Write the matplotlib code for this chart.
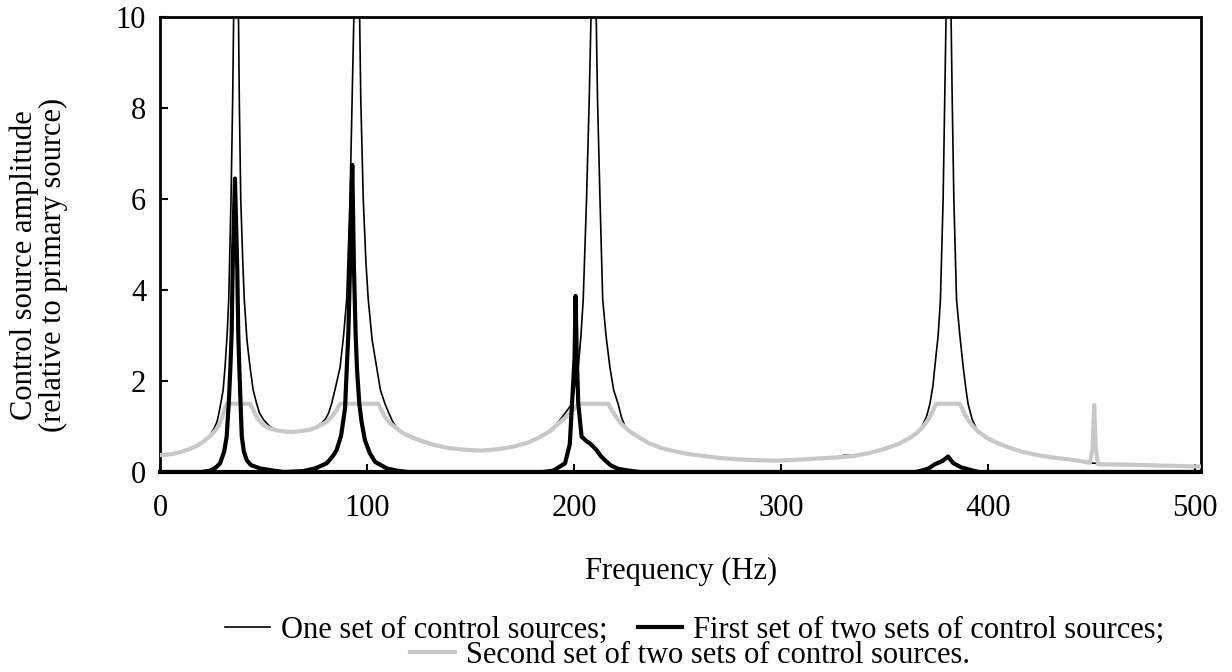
import matplotlib
matplotlib.use("Agg")
import matplotlib.pyplot as plt

plt.rcParams['font.family'] = ['Liberation Serif', 'DejaVu Serif']
plt.rcParams['font.size'] = 22

# one set of control sources (thin black)
one_f = [0, 5, 10, 14, 18, 21, 24, 26, 27.5, 28.5, 29.3, 30.5, 31.4, 32.4, 33.2, 34.3, 35.1,
         35.7, 36.7, 37.8, 38.3, 39.0, 40.0, 40.7, 42.0, 43.5, 45.0, 46.7, 48, 50, 53, 56,
         60, 64, 68, 72, 75, 78, 80, 81.5, 82.9, 85.0, 87, 88.7, 90.2, 91.8, 92.8, 93.9,
         95.1, 96.3, 97, 98.2, 99.5, 100.6, 102.5, 104.7, 106.5, 108.7, 110.5, 112.5, 114.3,
         118, 122, 126, 132, 139, 147, 155, 163, 171, 178, 184, 188, 192, 195, 197.5, 198.9,
         200.5, 202.1, 203.4, 204.5, 206.1, 207.4, 208.5, 209.6, 210.6, 211.4, 212.6, 213.9,
         215.5, 217.4, 219.2, 221.4, 223, 225, 226.2, 230, 236, 242, 249, 256, 263, 270,
         279, 288, 298, 308, 319, 327, 331, 335, 343, 351, 357, 362, 365.5, 368, 370.4,
         372, 373.5, 374.4, 376, 377.1, 378.4, 379.2, 380, 381, 382.1, 382.8, 383.6, 384.9,
         386.5, 388.1, 389.5, 390.5, 392.5, 394.5, 397, 400, 404, 410, 416, 423, 431, 439,
         445, 449, 460, 475, 490, 503]
one_amp = [0.37, 0.39, 0.44, 0.5, 0.58, 0.68, 0.8, 0.95, 1.1, 1.3, 1.5, 1.8, 2.3, 3.0, 3.8,
           6.0, 8.2, 10.5, 25, 10.5, 8.2, 6.0, 4.6, 3.8, 2.9, 2.3, 1.8, 1.5, 1.3, 1.15,
           1.0, 0.93, 0.89, 0.88, 0.89, 0.93, 0.98, 1.07, 1.17, 1.3, 1.5, 1.9, 2.3, 3.0,
           3.8, 6.0, 8.2, 10.5, 25, 10.5, 8.2, 6.0, 4.6, 3.8, 2.9, 2.3, 1.8, 1.5, 1.3, 1.1,
           0.98, 0.84, 0.74, 0.67, 0.59, 0.53, 0.49, 0.47, 0.5, 0.56, 0.65, 0.78, 0.9,
           1.07, 1.25, 1.4, 1.5, 1.9, 2.3, 3.0, 3.8, 6.0, 8.2, 10.5, 25, 10.5, 8.2, 6.0,
           3.8, 3.0, 2.3, 1.8, 1.49, 1.2, 0.97, 0.92, 0.8, 0.64, 0.53, 0.45, 0.39, 0.35,
           0.31, 0.28, 0.26, 0.25, 0.27, 0.30, 0.33, 0.37, 0.36, 0.43, 0.52, 0.62, 0.74,
           0.85, 0.98, 1.22, 1.49, 1.9, 2.31, 3.0, 3.78, 5.98, 8.18, 10.5, 25, 10.5, 8.18,
           5.98, 3.78, 3.0, 2.31, 1.8, 1.49, 1.15, 0.95, 0.82, 0.72, 0.63, 0.53, 0.45,
           0.38, 0.32, 0.28, 0.23, 0.2, 0.17, 0.16, 0.14, 0.12]

# first set of two sets (thick black)
first_f = [0, 20, 24.2, 27, 29, 31, 32.2, 33.2, 34.0, 34.6, 35.1, 36.2, 37.3, 37.8, 38.3,
           39.0, 39.5, 40.5, 41.9, 44, 48.3, 54.8, 60, 69.2, 75, 80.5, 83.5, 85.3, 87.5,
           89.4, 90.2, 91.0, 91.8, 92.9, 93.7, 94.5, 95.2, 96.3, 97.4, 99, 101.4, 104,
           109.5, 114.3, 120, 185, 190, 195.7, 198, 199.1, 200.3, 200.8, 201.4, 202.1,
           203.7, 206.0, 207.7, 209.5, 211, 213, 215, 218, 221.4, 226.6, 232, 365, 368.8,
           371.5, 374.4, 378, 380.8, 383.2, 385.5, 387.3, 390.5, 392.9, 396, 503]
first_amp = [0, 0, 0.03, 0.1, 0.19, 0.45, 0.78, 1.5, 2.3, 3.05, 4.5, 6.45, 4.5, 3.05, 2.3,
             1.4, 0.78, 0.45, 0.26, 0.15, 0.08, 0.03, 0, 0.02, 0.08, 0.19, 0.35, 0.48, 0.8,
             1.4, 2.24, 3.05, 4.5, 6.75, 4.5, 3.05, 2.24, 1.5, 1.1, 0.7, 0.41, 0.22,
             0.08, 0.03, 0, 0, 0.03, 0.19, 0.61, 1.51, 2.5, 3.87, 2.5, 1.51,
             0.78, 0.68, 0.63, 0.55, 0.48, 0.35, 0.26, 0.14, 0.07, 0.03, 0, 0, 0.04,
             0.08, 0.17, 0.24, 0.34, 0.2, 0.14, 0.1, 0.06, 0.03, 0, 0]

# second set of two sets (grey)
second_f = [0, 5, 10, 14, 18, 21, 24, 26.5, 28.5, 30, 31.2, 32.2, 43.5, 44.7, 45.9, 47.5,
            50, 53, 56, 60, 64.4, 68, 72.5, 76, 80.5, 83, 85.3, 87, 105.5, 107, 108.7, 111,
            114.3, 118, 122, 126, 132, 139, 147, 155, 163, 171, 178, 184, 188.5, 192.4, 196,
            198.9, 201, 202.1, 216.6, 218, 219.8, 222.5, 226.2, 230, 236, 242, 249, 256, 263,
            270, 279, 288, 298, 308, 319, 327, 335, 343, 351, 357, 362, 365.5, 368.8, 371.5,
            373.6, 375, 386.6, 388.5, 390.5, 393, 395.3, 400, 406.6, 412, 417, 423, 431, 439,
            445, 449.3, 450.6, 451.4, 452.2, 453.3, 470, 485, 503]
second_amp = [0.37, 0.39, 0.44, 0.5, 0.58, 0.67, 0.78, 0.9, 1.03, 1.2, 1.38, 1.5, 1.5, 1.4,
              1.28, 1.15, 1.03, 0.96, 0.92, 0.89, 0.88, 0.9, 0.93, 0.99, 1.1, 1.22, 1.36,
              1.5, 1.5, 1.36, 1.21, 1.08, 0.96, 0.84, 0.76, 0.69, 0.6, 0.53, 0.49, 0.47,
              0.5, 0.56, 0.65, 0.78, 0.9, 1.06, 1.2, 1.33, 1.43, 1.5, 1.5, 1.38, 1.25,
              1.08, 0.92, 0.8, 0.64, 0.53, 0.45, 0.39, 0.35, 0.31, 0.28, 0.26, 0.25, 0.27,
              0.30, 0.32, 0.35, 0.42, 0.52, 0.62, 0.74, 0.85, 1.0, 1.17, 1.36, 1.5, 1.5,
              1.3, 1.14, 1.0, 0.89, 0.74, 0.6, 0.51, 0.44, 0.38, 0.32, 0.28, 0.24, 0.2,
              0.5, 1.47, 0.5, 0.17, 0.16, 0.14, 0.12]

labels = ['One set of control sources;', 'First set of two sets of control sources;',
          'Second set of two sets of control sources.']

fig = plt.figure(figsize=(12.32, 6.72), dpi=100)
ax = fig.add_axes([0.1299, 0.2976, 0.8449, 0.6771])

l1, = ax.plot(one_f, one_amp, color='black', lw=1.2, zorder=2)
l3, = ax.plot(second_f, second_amp, color='#c8c8c8', lw=3, zorder=3)
l2, = ax.plot(first_f, first_amp, color='black', lw=3, zorder=4)

ax.set_xlim(0, 503)
ax.set_ylim(0, 10)
ax.set_xticks([0, 100, 200, 300, 400, 500])
ax.set_yticks([0, 2, 4, 6, 8, 10])
ax.tick_params(axis='both', direction='in', length=6, width=1.5, color='black')
ax.tick_params(axis='x', pad=16)
ax.tick_params(axis='y', pad=10)
for s in ax.spines.values():
    s.set_linewidth(2)
ax.spines['bottom'].set_linewidth(3)

fig.text(0.0317, 0.606, 'Control source amplitude\n(relative to primary source)',
         rotation=90, ha='center', va='center', multialignment='center', linespacing=1.0)
fig.text(0.553, 0.149, 'Frequency (Hz)', ha='center', va='center')

leg1 = fig.legend([l1, l2], labels[:2], ncol=2, loc='center', bbox_to_anchor=(0.564, 0.0625),
                  frameon=False, handlelength=1.45, handletextpad=0.36, columnspacing=1.0,
                  borderaxespad=0, borderpad=0)
leg2 = fig.legend([l3], labels[2:], loc='center', bbox_to_anchor=(0.56, 0.025),
                  frameon=False, handlelength=1.45, handletextpad=0.36,
                  borderaxespad=0, borderpad=0)

fig.savefig('out.png', dpi=100)
